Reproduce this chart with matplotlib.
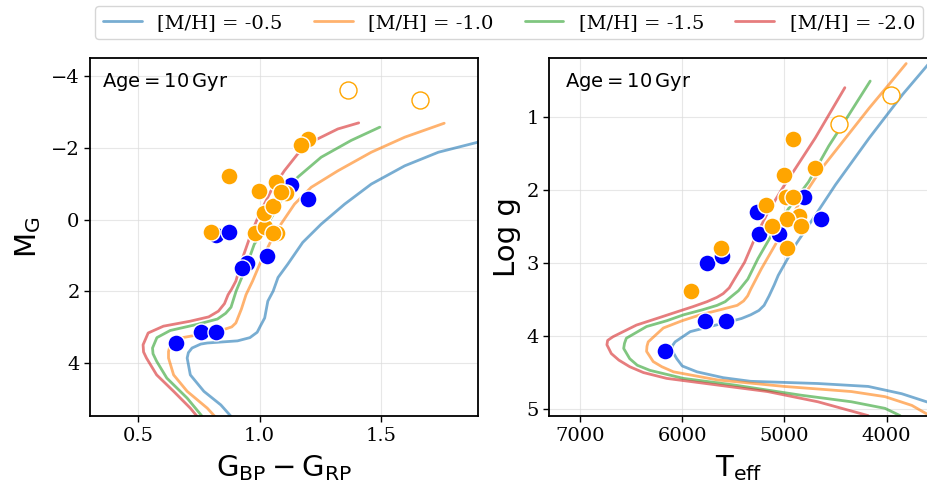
import matplotlib
matplotlib.use("Agg")
import matplotlib.pyplot as plt

# ---------------- data ----------------
labels = ["[M/H] = -0.5", "[M/H] = -1.0", "[M/H] = -1.5", "[M/H] = -2.0"]
colors = ["#1f77b4", "#ff7f0e", "#2ca02c", "#d62728"]

# CMD isochrones (BP-RP, M_G)
cmd_m05_x = [0.882, 0.840, 0.770, 0.714, 0.701, 0.706, 0.721, 0.757, 0.784, 0.909, 0.960, 0.990, 1.006, 1.021, 1.034, 1.056, 1.076, 1.116, 1.178, 1.254, 1.351, 1.461, 1.599, 1.738, 1.901, 1.92]
cmd_m05_y = [5.50, 5.18, 4.80, 4.34, 3.87, 3.72, 3.59, 3.48, 3.45, 3.39, 3.30, 3.15, 2.94, 2.75, 2.28, 2.00, 1.62, 1.25, 0.64, 0.13, -0.43, -0.99, -1.50, -1.88, -2.16, -2.24]
cmd_m10_x = [0.815, 0.784, 0.701, 0.645, 0.624, 0.624, 0.631, 0.673, 0.756, 0.854, 0.885, 0.902, 0.925, 0.944, 0.971, 1.006, 1.047, 1.088, 1.144, 1.213, 1.323, 1.461, 1.599, 1.762]
cmd_m10_y = [5.50, 5.27, 4.80, 4.34, 3.87, 3.69, 3.50, 3.31, 3.21, 3.07, 3.00, 2.89, 2.50, 2.10, 1.72, 1.16, 0.60, 0.13, -0.43, -0.90, -1.36, -1.88, -2.30, -2.69]
cmd_m15_x = [0.763, 0.701, 0.617, 0.575, 0.560, 0.558, 0.576, 0.631, 0.742, 0.826, 0.860, 0.882, 0.903, 0.943, 0.978, 1.033, 1.088, 1.157, 1.254, 1.378, 1.496]
cmd_m15_y = [5.50, 4.99, 4.43, 3.96, 3.75, 3.59, 3.30, 3.10, 2.93, 2.78, 2.62, 2.45, 2.00, 1.35, 0.69, 0.13, -0.52, -1.18, -1.74, -2.21, -2.58]
cmd_m20_x = [0.742, 0.714, 0.645, 0.575, 0.533, 0.521, 0.519, 0.540, 0.603, 0.714, 0.790, 0.830, 0.855, 0.870, 0.884, 0.902, 0.930, 0.964, 0.999, 1.047, 1.102, 1.157, 1.227, 1.323, 1.409]
cmd_m20_y = [5.50, 5.27, 4.80, 4.34, 3.87, 3.70, 3.50, 3.17, 2.98, 2.84, 2.72, 2.56, 2.35, 2.10, 1.95, 1.72, 1.07, 0.41, -0.15, -0.80, -1.36, -1.83, -2.21, -2.53, -2.70]

# Kiel isochrones (Teff, log g)
kiel_m05_t = [3566, 3852, 4180, 4673, 5331, 5600, 5856, 6000, 6054, 6103, 6095, 6070, 5922, 5700, 5528, 5420, 5331, 5250, 5199, 5150, 5100, 5061, 4896, 4699, 4501, 4171, 3842, 3520]
kiel_m05_g = [4.92, 4.79, 4.69, 4.65, 4.62, 4.57, 4.49, 4.41, 4.31, 4.19, 4.13, 4.08, 3.94, 3.86, 3.80, 3.76, 3.71, 3.65, 3.58, 3.45, 3.30, 3.17, 2.76, 2.35, 1.93, 1.29, 0.69, 0.16]
kiel_m10_t = [3566, 3753, 4016, 4345, 5002, 5659, 6086, 6200, 6284, 6349, 6345, 6333, 6185, 6000, 5824, 5600, 5462, 5400, 5360, 5330, 5226, 5094, 4962, 4830, 4633, 4402, 4171, 3974, 3809]
kiel_m10_g = [5.10, 4.95, 4.83, 4.76, 4.69, 4.60, 4.49, 4.42, 4.35, 4.21, 4.14, 4.08, 3.89, 3.79, 3.71, 3.63, 3.58, 3.52, 3.45, 3.36, 3.08, 2.76, 2.44, 2.12, 1.70, 1.29, 0.88, 0.55, 0.27]
kiel_m15_t = [3868, 4016, 4345, 4838, 5495, 5988, 6316, 6440, 6514, 6573, 6565, 6547, 6349, 6150, 5988, 5800, 5659, 5580, 5520, 5450, 5358, 5259, 5127, 4962, 4764, 4567, 4369, 4161]
kiel_m15_g = [5.09, 4.99, 4.90, 4.81, 4.67, 4.58, 4.47, 4.40, 4.31, 4.17, 4.10, 4.03, 3.87, 3.79, 3.71, 3.64, 3.58, 3.53, 3.46, 3.38, 3.22, 2.94, 2.62, 2.26, 1.89, 1.40, 0.97, 0.51]
kiel_m20_t = [4180, 4673, 5166, 5659, 6152, 6380, 6514, 6620, 6694, 6737, 6730, 6678, 6448, 6250, 6054, 5900, 5758, 5660, 5600, 5540, 5489, 5390, 5292, 5160, 5012, 4913, 4699, 4409]
kiel_m20_g = [5.09, 4.90, 4.76, 4.67, 4.58, 4.50, 4.42, 4.33, 4.24, 4.12, 4.06, 4.01, 3.85, 3.76, 3.67, 3.60, 3.53, 3.47, 3.42, 3.34, 3.22, 2.99, 2.67, 2.30, 1.96, 1.75, 1.29, 0.60]

# stars on CMD
cmd_blue_x = [0.653, 0.757, 0.820, 0.948, 0.926, 1.031, 0.819, 0.872, 1.131, 1.198]
cmd_blue_y = [3.44, 3.15, 3.15, 1.21, 1.36, 1.03, 0.42, 0.36, -0.96, -0.56]
cmd_orange_x = [0.873, 0.801, 0.981, 1.023, 1.070, 1.055, 1.017, 1.056, 0.999, 1.067, 1.107, 1.088, 1.198, 1.170]
cmd_orange_y = [-1.22, 0.36, 0.38, 0.22, 0.38, 0.38, -0.19, -0.38, -0.79, -1.05, -0.74, -0.77, -2.25, -2.07]
cmd_open_x = [1.365, 1.661]
cmd_open_y = [-3.62, -3.33]

# stars on Kiel diagram
kiel_blue_t = [6168, 5776, 5576, 5760, 5612, 5273, 5247, 5053, 4813, 4645]
kiel_blue_g = [4.20, 3.80, 3.80, 2.995, 2.90, 2.30, 2.60, 2.60, 2.10, 2.40]
kiel_orange_t = [5915, 5618, 5184, 4862, 4977, 5125, 4836, 4977, 4987, 4921, 5000, 4698, 4921]
kiel_orange_g = [3.39, 2.80, 2.20, 2.36, 2.40, 2.50, 2.50, 2.80, 2.10, 2.10, 1.80, 1.70, 1.30]
kiel_open_t = [4464, 3958]
kiel_open_g = [1.10, 0.70]

age_text = r"$\mathrm{Age} = 10\,\mathrm{Gyr}$"

# ---------------- figure ----------------
serif_font = "DejaVu Serif"
plt.rcParams["mathtext.default"] = "regular"

fig = plt.figure(figsize=(9.28, 4.87), dpi=100)
ax1 = fig.add_axes([0.097, 0.145, 0.4177, 0.735])
ax2 = fig.add_axes([0.592, 0.145, 0.4075, 0.735])

cmd_lines = [(cmd_m05_x, cmd_m05_y), (cmd_m10_x, cmd_m10_y), (cmd_m15_x, cmd_m15_y), (cmd_m20_x, cmd_m20_y)]
kiel_lines = [(kiel_m05_t, kiel_m05_g), (kiel_m10_t, kiel_m10_g), (kiel_m15_t, kiel_m15_g), (kiel_m20_t, kiel_m20_g)]

handles = []
for (x, y), c, lab in zip(cmd_lines, colors, labels):
    h, = ax1.plot(x, y, color=c, lw=2, alpha=0.6, label=lab, zorder=2,
                  solid_joinstyle="round", solid_capstyle="round")
    handles.append(h)
for (x, y), c in zip(kiel_lines, colors):
    ax2.plot(x, y, color=c, lw=2, alpha=0.6, zorder=2, solid_joinstyle="round", solid_capstyle="round")

msize = 150
ax1.scatter(cmd_blue_x, cmd_blue_y, s=msize, color="blue", edgecolor="white", linewidth=1, zorder=3)
ax1.scatter(cmd_orange_x, cmd_orange_y, s=msize, color="orange", edgecolor="white", linewidth=1, zorder=4)
ax1.scatter(cmd_open_x, cmd_open_y, s=msize, facecolor="white", edgecolor="orange", linewidth=1, zorder=4)

ax2.scatter(kiel_blue_t, kiel_blue_g, s=msize, color="blue", edgecolor="white", linewidth=1, zorder=3)
ax2.scatter(kiel_orange_t, kiel_orange_g, s=msize, color="orange", edgecolor="white", linewidth=1, zorder=4)
ax2.scatter(kiel_open_t, kiel_open_g, s=msize, facecolor="white", edgecolor="orange", linewidth=1, zorder=4)

ax1.set_xlim(0.3, 1.9)
ax1.set_ylim(5.5, -4.5)
ax1.set_xticks([0.5, 1.0, 1.5])
ax1.set_yticks([-4, -2, 0, 2, 4])
ax2.set_xlim(7300, 3600)
ax2.set_ylim(5.1, 0.2)
ax2.set_xticks([7000, 6000, 5000, 4000])
ax2.set_yticks([1, 2, 3, 4, 5])

for ax in (ax1, ax2):
    ax.grid(True, color="#dddddd", lw=0.8, alpha=0.7)
    ax.set_axisbelow(True)
    for sp in ax.spines.values():
        sp.set_linewidth(1.3)
    ax.tick_params(labelsize=14, length=4, width=1)
    for lbl in ax.get_xticklabels() + ax.get_yticklabels():
        lbl.set_fontfamily(serif_font)

ax1.set_xlabel(r"$G_{BP} - G_{RP}$", fontsize=21, labelpad=6)
ax1.set_ylabel(r"$M_G$", fontsize=21, labelpad=6)
ax2.set_xlabel(r"$T_{eff}$", fontsize=21, labelpad=6)
ax2.set_ylabel("Log g", fontsize=21)

ax1.text(0.03, 0.965, age_text, transform=ax1.transAxes, fontsize=14, va="top", ha="left")
ax2.text(0.042, 0.965, age_text, transform=ax2.transAxes, fontsize=14, va="top", ha="left")

fig.legend(handles=handles, labels=labels, loc="upper center", bbox_to_anchor=(0.5485, 1.008),
           ncol=4, prop={"family": serif_font, "size": 14}, columnspacing=1.6, frameon=True)

fig.savefig("out.png", dpi=100)
